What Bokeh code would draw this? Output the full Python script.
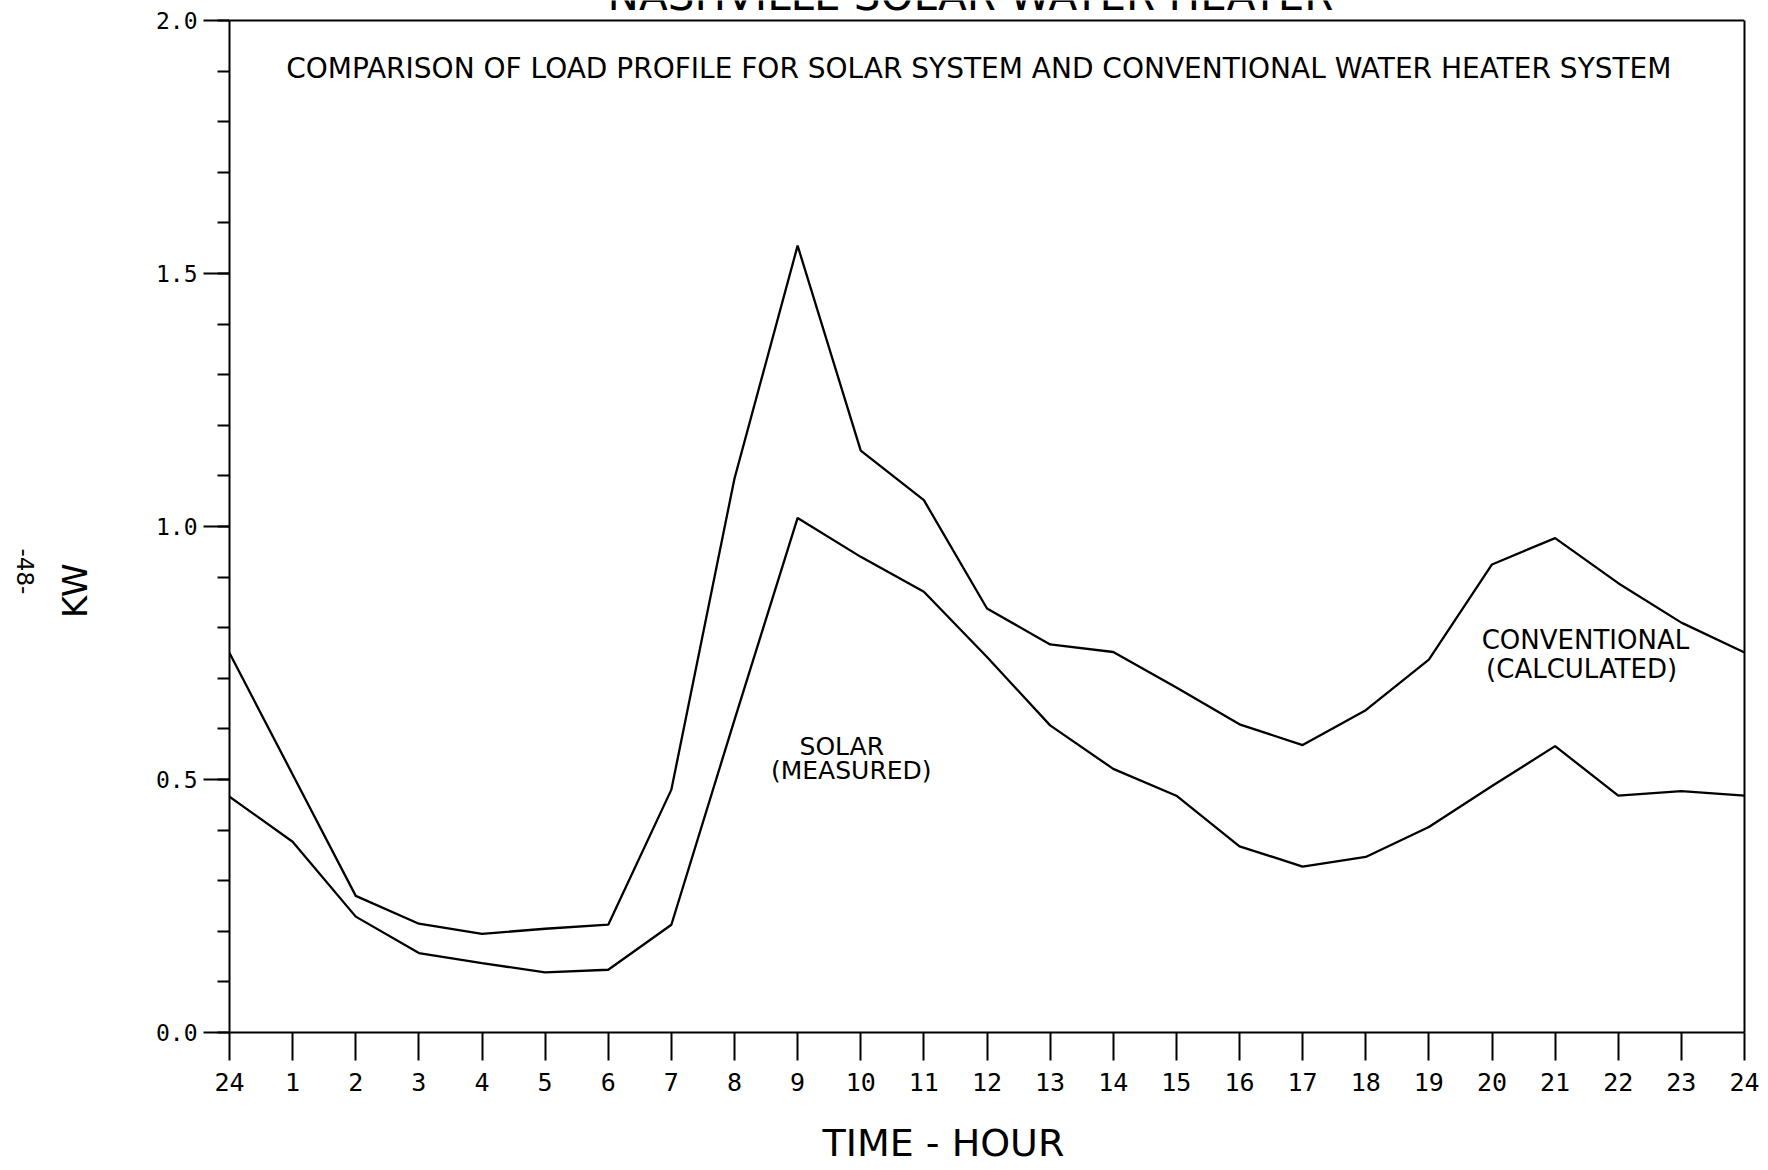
import math
from bokeh.plotting import figure
from bokeh.models import Label, FixedTicker, Range1d, PrintfTickFormatter, LinearAxis, Span
from bokeh.core.properties import value
from bokeh.embed import file_html
from bokeh.resources import INLINE

# ---- data ----
hours = list(range(25))
x_tick_labels = ["24"] + [str(h) for h in range(1, 25)]
conventional = [0.75, 0.51, 0.27, 0.215, 0.195, 0.205, 0.213, 0.48, 1.095, 1.555,
                1.15, 1.052, 0.838, 0.767, 0.752, 0.682, 0.609, 0.568, 0.637, 0.737,
                0.925, 0.977, 0.888, 0.81, 0.751]
solar = [0.466, 0.377, 0.229, 0.157, 0.137, 0.119, 0.124, 0.213, 0.618, 1.017,
         0.94, 0.871, 0.742, 0.607, 0.521, 0.468, 0.368, 0.328, 0.347, 0.406,
         0.487, 0.566, 0.468, 0.477, 0.468]
y_major = [0.0, 0.5, 1.0, 1.5, 2.0]
y_minor = [round(0.1 * i, 1) for i in range(21)]

title_text = "NASHVILLE SOLAR WATER HEATER"
subtitle_text = "COMPARISON OF LOAD PROFILE FOR SOLAR SYSTEM AND CONVENTIONAL WATER HEATER SYSTEM"
x_label_text = "TIME - HOUR"
y_label_text = "KW"
page_text = "-48-"

W, H = 1760, 1170
Y_MAX = y_major[-1]
Y_TOP = Y_MAX * 1032 / 1012   # the frame reaches the page top; the box stops at 2.0

p = figure(width=W, height=H,
           x_range=Range1d(0, 24), y_range=Range1d(0, Y_TOP),
           output_backend="svg", toolbar_location=None,
           min_border_left=229, min_border_right=16,
           min_border_top=0, min_border_bottom=138)

p.background_fill_color = "white"
p.border_fill_color = "white"
p.grid.visible = False
p.outline_line_color = None

# x axis
p.xaxis.ticker = FixedTicker(ticks=hours)
p.xaxis.major_label_overrides = {h: lab for h, lab in zip(hours, x_tick_labels)}
p.xaxis.major_tick_out = 28
p.xaxis.major_tick_in = 0
p.xaxis.minor_tick_out = 0
p.xaxis.minor_tick_in = 0
p.xaxis.major_label_standoff = 12
p.xaxis.major_label_text_font = "DejaVu Sans Mono"
p.xaxis.major_label_text_font_size = "25px"
p.xaxis.major_label_text_color = "black"

# y axis (line stops at 2.0)
p.yaxis.bounds = (0, Y_MAX)
p.yaxis.ticker = FixedTicker(ticks=y_major, minor_ticks=y_minor)
p.yaxis.formatter = PrintfTickFormatter(format="%.1f")
p.yaxis.major_tick_out = 26
p.yaxis.major_tick_in = 0
p.yaxis.minor_tick_out = 12
p.yaxis.minor_tick_in = 0
p.yaxis.major_label_standoff = 6
p.yaxis.major_label_text_font = "DejaVu Sans Mono"
p.yaxis.major_label_text_font_size = "23px"
p.yaxis.major_label_text_color = "black"

for ax in (p.xaxis[0], p.yaxis[0]):
    ax.axis_line_color = "black"
    ax.axis_line_width = 2
    ax.major_tick_line_color = "black"
    ax.major_tick_line_width = 2
    ax.minor_tick_line_color = "black"
    ax.minor_tick_line_width = 2

# right border of the box: a bare axis on the right, limited to 0..2
right_ax = LinearAxis(bounds=(0, Y_MAX), ticker=FixedTicker(ticks=[]),
                      axis_line_color="black", axis_line_width=2,
                      major_tick_out=0, major_tick_in=0,
                      minor_tick_out=0, minor_tick_in=0,
                      major_label_standoff=0, major_label_text_font_size="0px")
p.add_layout(right_ax, "right")

# top border of the box at 2.0
p.add_layout(Span(location=Y_MAX, dimension="width", line_color="black", line_width=2))

def text_axis(pos, text, size, standoff, orientation="horizontal"):
    return LinearAxis(ticker=FixedTicker(ticks=[pos]),
                      major_label_overrides={pos: text},
                      major_label_standoff=standoff,
                      major_label_orientation=orientation,
                      major_label_text_font="DejaVu Sans",
                      major_label_text_font_size=size,
                      major_label_text_color="black",
                      axis_line_color=None, major_tick_line_color=None,
                      minor_tick_line_color=None,
                      major_tick_out=0, major_tick_in=0,
                      minor_tick_out=0, minor_tick_in=0)

# axis titles as single-label axes
p.add_layout(text_axis(11.31, x_label_text, "38px", 27), "below")
p.add_layout(text_axis(0.873, y_label_text, "34px", 57, "vertical"), "left")
p.add_layout(text_axis(0.866, page_text, "23px", 27, -math.pi / 2), "left")

# curves
p.line(hours, conventional, line_color="black", line_width=2.3)
p.line(hours, solar, line_color="black", line_width=2.3)

# title, cut off by the top of the page as in the original
p.text(x=[11.74], y=[2.049], text=[title_text], text_align="center",
       text_baseline="alphabetic", text_font=value("DejaVu Sans"),
       text_font_size="42px", text_color="black")

def add_label(x, y, text, size):
    p.add_layout(Label(x=x, y=y, text=text, text_align="center",
                       text_baseline="middle", text_font="DejaVu Sans",
                       text_font_size=size, text_color="black"))

add_label(11.87, 1.905, subtitle_text, "28px")
add_label(9.70, 0.565, "SOLAR", "25px")
add_label(9.85, 0.518, "(MEASURED)", "25px")
add_label(21.48, 0.775, "CONVENTIONAL", "26px")
add_label(21.42, 0.719, "(CALCULATED)", "26px")

open("out.html", "w").write(file_html(p, INLINE))
